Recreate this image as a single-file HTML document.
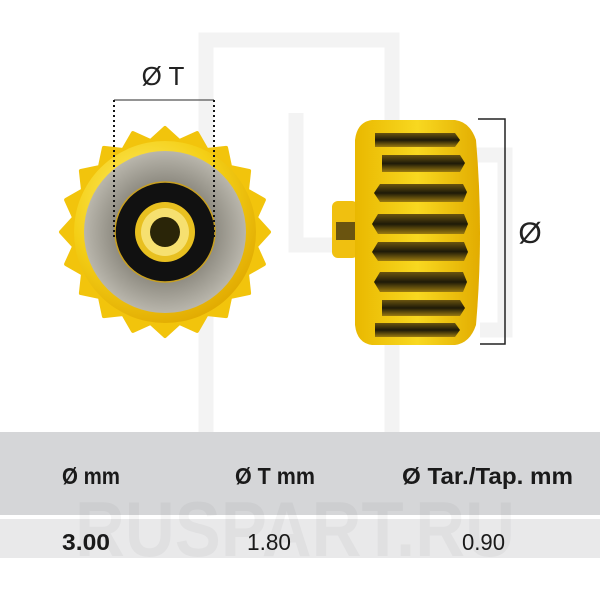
<!DOCTYPE html>
<html><head><meta charset="utf-8"><style>
html,body{margin:0;padding:0;background:#fff;}
svg{display:block}
</style></head><body>
<svg width="600" height="600" viewBox="0 0 600 600" xmlns="http://www.w3.org/2000/svg">
<defs>
<radialGradient id="gold" cx="0.4" cy="0.35" r="0.7">
<stop offset="0" stop-color="#fff27a"/><stop offset="0.6" stop-color="#f4cf16"/><stop offset="1" stop-color="#e0a800"/>
</radialGradient>
<radialGradient id="grey" cx="0.5" cy="0.5" r="0.5">
<stop offset="0.6" stop-color="#8d8a80"/><stop offset="1" stop-color="#b9b6ac"/>
</radialGradient>
<linearGradient id="side" x1="0" y1="0" x2="1" y2="0">
<stop offset="0" stop-color="#e9b800"/><stop offset="0.5" stop-color="#f8d820"/><stop offset="1" stop-color="#e2ac00"/>
</linearGradient>
<linearGradient id="groove" x1="0" y1="0" x2="0" y2="1">
<stop offset="0" stop-color="#6a5410"/><stop offset="0.5" stop-color="#1e1a08"/><stop offset="1" stop-color="#9a7a10"/>
</linearGradient>
</defs>
<!-- watermark frames -->
<g fill="none" stroke="#f3f3f3" stroke-width="15">
<rect x="206" y="40" width="186" height="420"/>
<path d="M296 113 V245 H410"/>
<path d="M470 155 H505 V330 H480"/>
</g>
<!-- table bands -->
<rect x="0" y="432" width="600" height="83" fill="#d5d6d8"/>
<rect x="0" y="519" width="600" height="39" fill="#e9e9ea"/>
<text x="295" y="556" font-family="Liberation Sans, sans-serif" font-weight="bold" font-size="78" fill="#000" fill-opacity="0.035" text-anchor="middle" textLength="440" lengthAdjust="spacingAndGlyphs">RUSPART.RU</text>
<g font-family="Liberation Sans, sans-serif" font-weight="bold" font-size="23" fill="#1a1a1a">
<text x="62" y="484" textLength="58" lengthAdjust="spacingAndGlyphs">Ø mm</text>
<text x="235" y="484" textLength="80" lengthAdjust="spacingAndGlyphs">Ø T mm</text>
<text x="402" y="484" textLength="171" lengthAdjust="spacingAndGlyphs">Ø Tar./Tap. mm</text>
<text x="62" y="550" textLength="48" lengthAdjust="spacingAndGlyphs">3.00</text>
</g>
<g font-family="Liberation Sans, sans-serif" font-size="23" fill="#1a1a1a">
<text x="247" y="550" textLength="44" lengthAdjust="spacingAndGlyphs">1.80</text>
<text x="462" y="550" textLength="43" lengthAdjust="spacingAndGlyphs">0.90</text>
</g>
<!-- left crown -->
<polygon fill="#f2c40c" stroke="#f2c40c" stroke-width="4" stroke-linejoin="round" points="269,232 255.9,246.4 263.9,264.1 247,273.8 249.1,293.1 230.1,297.1 226.1,316.1 206.8,314 197.1,330.9 179.4,322.9 165,336 150.6,322.9 132.9,330.9 123.2,314 103.9,316.1 99.9,297.1 80.9,293.1 83,273.8 66.1,264.1 74.1,246.4 61,232 74.1,217.6 66.1,199.9 83,190.2 80.9,170.9 99.9,166.9 103.9,147.9 123.2,150 132.9,133.1 150.6,141.1 165,128 179.4,141.1 197.1,133.1 206.8,150 226.1,147.9 230.1,166.9 249.1,170.9 247,190.2 263.9,199.9 255.9,217.6"/>
<circle cx="165" cy="232" r="91" fill="url(#gold)"/>
<circle cx="165" cy="232" r="81" fill="url(#grey)"/>
<circle cx="165" cy="232" r="50" fill="#111" stroke="#c9a020" stroke-width="1.5"/>
<circle cx="165" cy="232" r="30" fill="#e8c020"/>
<circle cx="165" cy="232" r="24" fill="#f6e070"/>
<circle cx="165" cy="232" r="15" fill="#2a2508"/>
<!-- dims left -->
<path d="M114 100 H214" stroke="#555" stroke-width="1.2"/>
<path d="M114 100 V237 M214 100 V237" stroke="#111" stroke-width="2" stroke-dasharray="2 3"/>
<text x="163" y="85" font-family="Liberation Sans, sans-serif" font-size="26" fill="#222" text-anchor="middle">Ø T</text>
<!-- right crown -->
<rect x="332" y="201" width="26" height="57" rx="6" fill="#f0c010"/>
<rect x="336" y="222" width="20" height="18" fill="#6a5410"/>
<path d="M372 120 H455 Q470 122 476 140 Q484 232 476 325 Q470 343 455 345 H372 Q357 343 355 325 V140 Q357 122 372 120 Z" fill="url(#side)"/>
<g fill="url(#groove)">
<path d="M375 133 H455 L460 140 L455 147 H375 Z"/>
<path d="M382 155 H460 L465 163 L460 172 H382 Z"/>
<path d="M380 184 H463 L467 192 L463 202 H380 L374 193 Z"/>
<path d="M378 214 H464 L468 224 L464 234 H378 L372 224 Z"/>
<path d="M378 242 H464 L468 252 L464 261 H378 L372 252 Z"/>
<path d="M380 272 H463 L467 282 L463 292 H380 L374 282 Z"/>
<path d="M382 300 H460 L465 308 L460 316 H382 Z"/>
<path d="M375 323 H455 L460 330 L455 337 H375 Z"/>
</g>
<path d="M478 119 H505 V344 H480" fill="none" stroke="#222" stroke-width="1.5"/>
<text x="530" y="243" font-family="Liberation Sans, sans-serif" font-size="30" fill="#222" text-anchor="middle">Ø</text>
</svg>
</body></html>
